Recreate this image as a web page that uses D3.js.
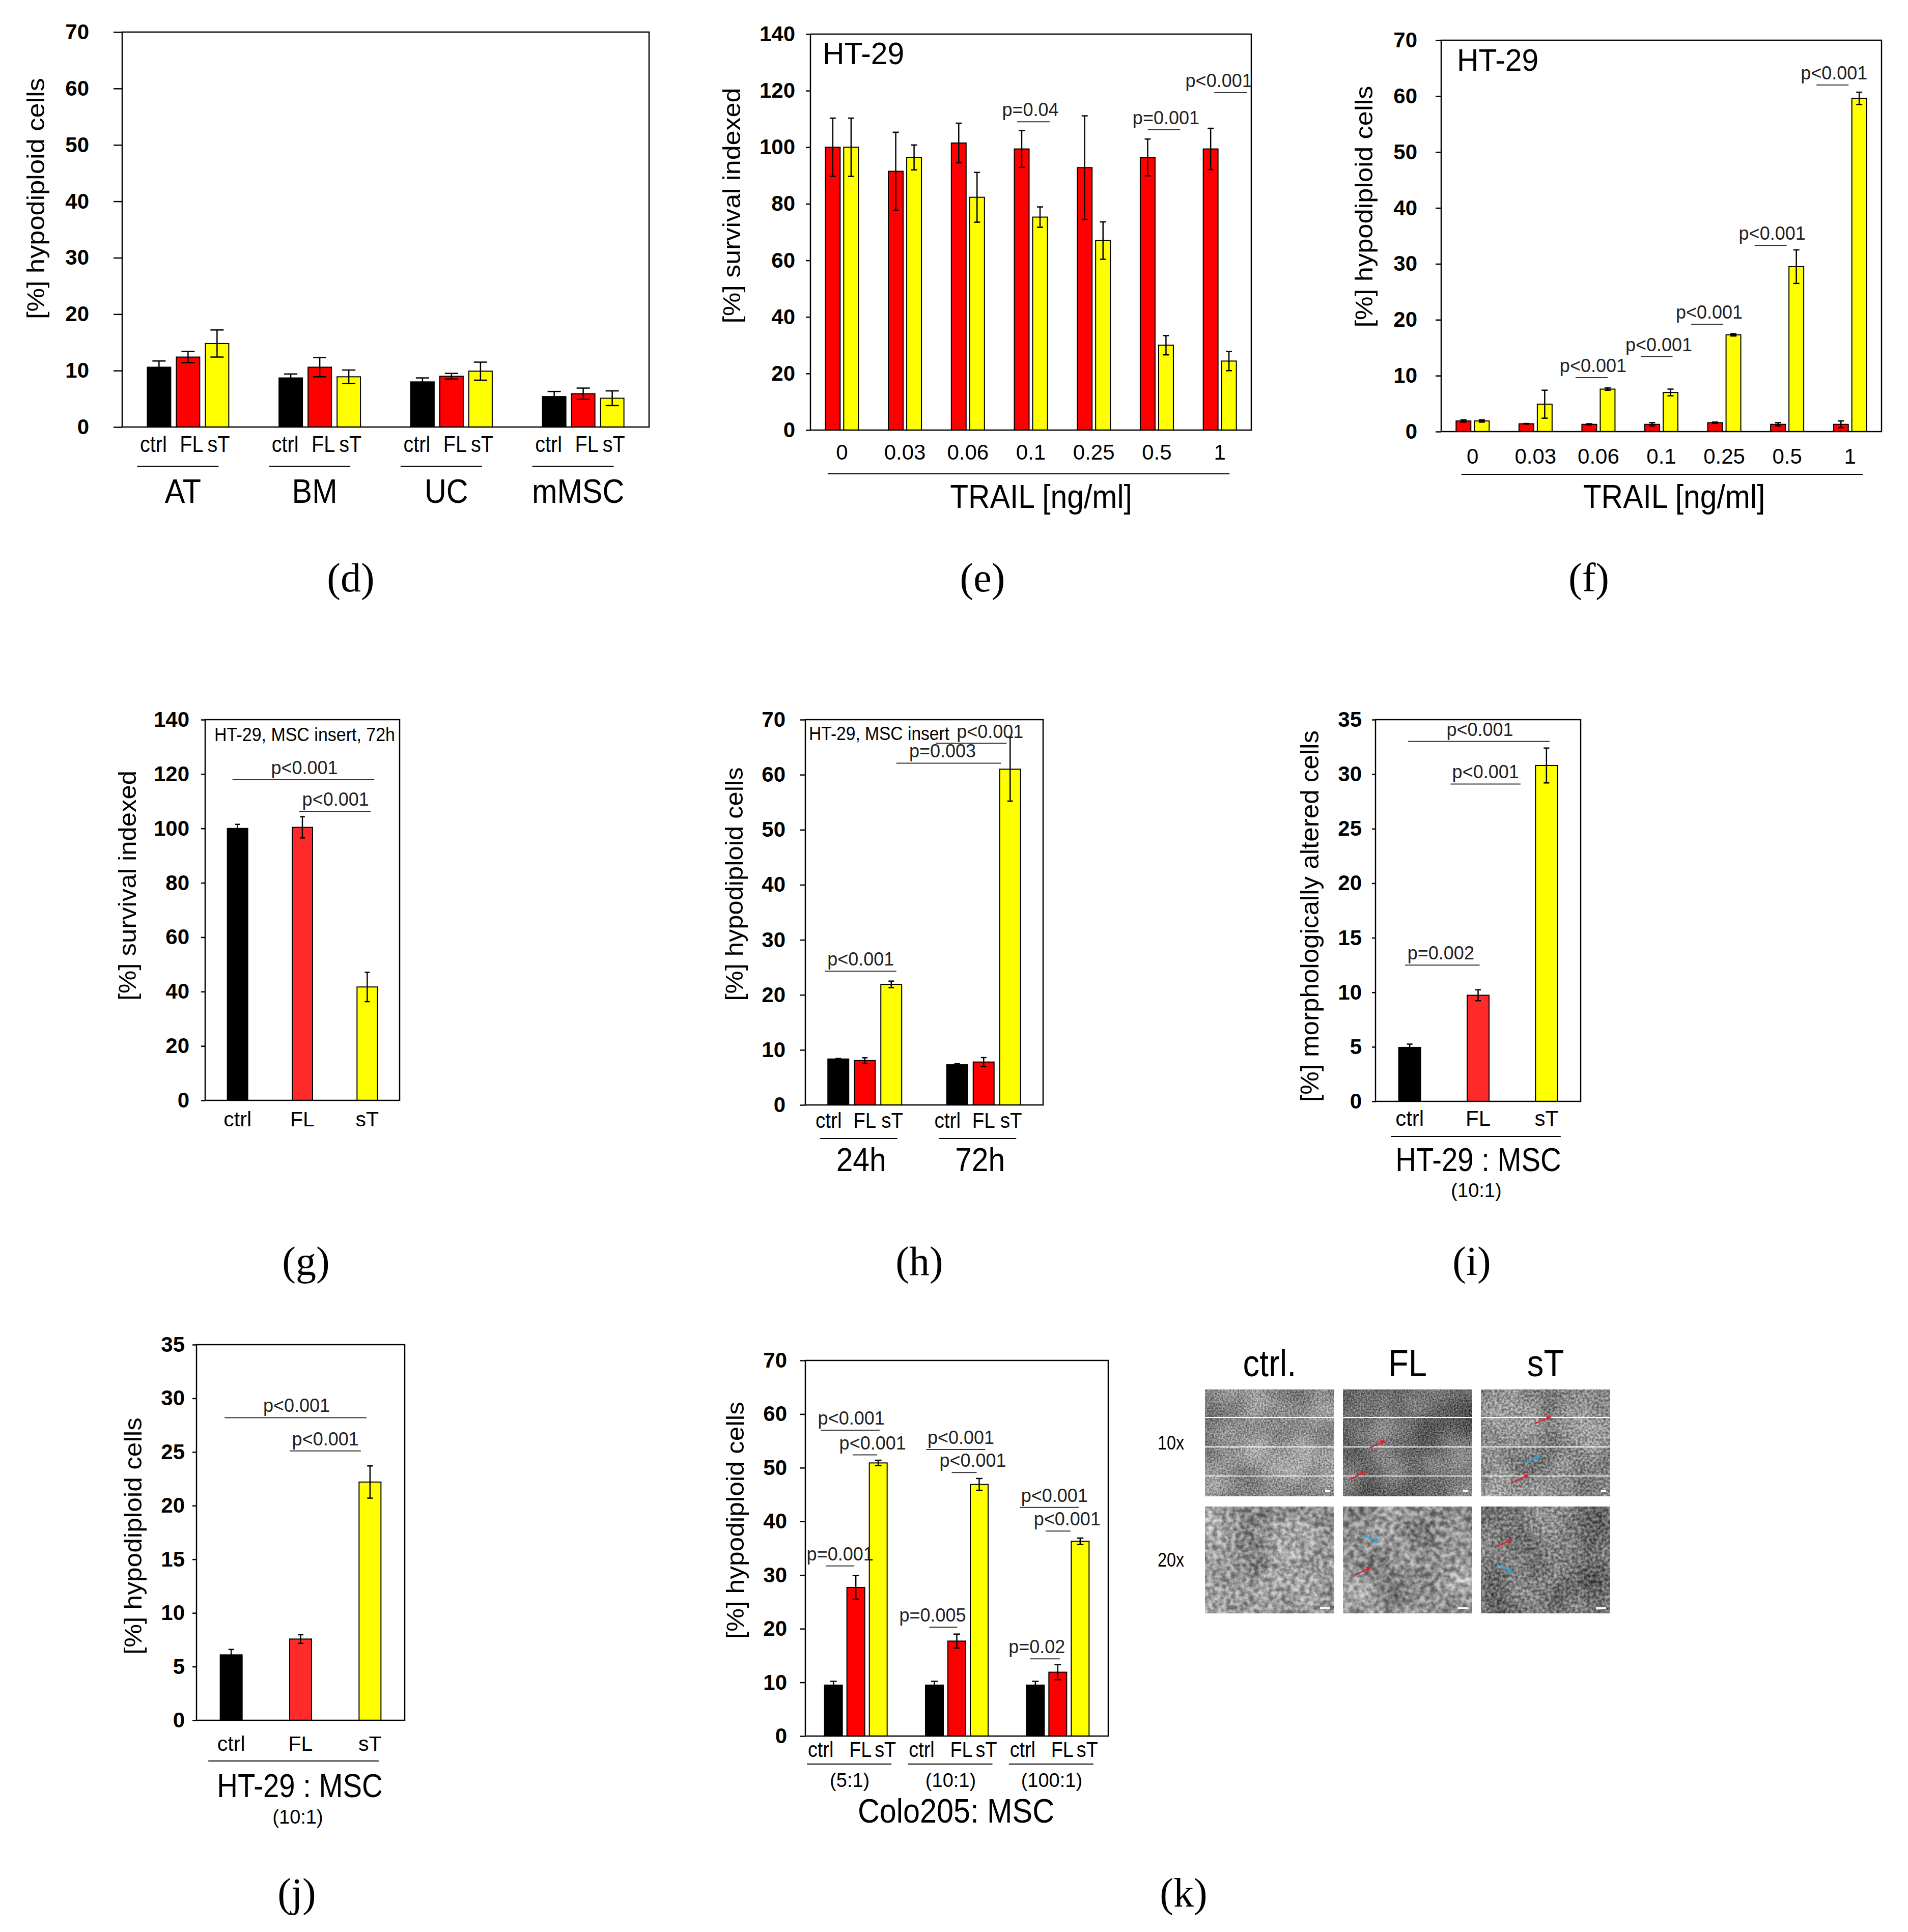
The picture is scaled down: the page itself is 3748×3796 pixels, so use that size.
<!DOCTYPE html>
<html>
<head>
<meta charset="utf-8">
<script src="https://cdn.jsdelivr.net/npm/d3@7"></script>
<style>
  body { margin: 0; background: #fff; }
  svg { display: block; }
</style>
</head>
<body>
<svg id="fig" width="3748" height="3796"></svg>
<script>
// ---------- data ----------
const cond = ["ctrl", "FL", "sT"];

// (d) hypodiploid cells per MSC source
const dSources = ["AT", "BM", "UC", "mMSC"];
const dMean = [[10.6, 12.4, 14.8], [8.7, 10.6, 8.9], [8.0, 9.0, 9.9], [5.4, 5.9, 5.1]];
const dErr  = [[1.1, 1.0, 2.4], [0.7, 1.7, 1.2], [0.7, 0.5, 1.6], [0.9, 1.0, 1.3]];

// (e) survival, (f) hypodiploid cells vs TRAIL dose (red = FL, yellow = sT)
const trailDoses = ["0", "0.03", "0.06", "0.1", "0.25", "0.5", "1"];
const eFL    = [100, 91.5, 101.5, 99.4, 92.8, 96.4, 99.4];
const eFLErr = [10.3, 13.8, 7.0, 6.5, 18.3, 6.5, 7.3];
const eST    = [100, 96.4, 82.3, 75.3, 67.0, 30.0, 24.4];
const eSTErr = [10.3, 4.4, 8.8, 3.6, 6.6, 3.4, 3.4];
const ePvals = [[3, "p=0.04", 109], [5, "p=0.001", 106.2], [6, "p<0.001", 119.3]];

const fFL    = [1.9, 1.4, 1.3, 1.3, 1.6, 1.3, 1.3];
const fFLErr = [0.2, 0.05, 0.1, 0.3, 0.1, 0.3, 0.6];
const fST    = [1.9, 4.9, 7.6, 7.0, 17.3, 29.5, 59.6];
const fSTErr = [0.2, 2.5, 0.2, 0.6, 0.2, 3.0, 1.1];
const fPvals = [[2, "p<0.001", 9.65], [3, "p<0.001", 13.4], [4, "p<0.001", 19.2], [5, "p<0.001", 33.3], [6, "p<0.001", 62.0]];

// (g) survival with MSC insert, 72h
const gMean = [100, 100.4, 41.7];
const gErr  = [1.5, 3.9, 5.4];
const gPvals = [[0, 2, "p<0.001", 117.9], [1, 2, "p<0.001", 106.3]];

// (h) hypodiploid cells with MSC insert
const hTimes = ["24h", "72h"];
const hMean = [[8.35, 8.07, 21.9], [7.3, 7.8, 61.0]];
const hErr  = [[0.1, 0.5, 0.6], [0.2, 0.8, 5.8]];
const hPvals = [[[0, 0], [0, 2], "p<0.001", 24.3], [[1, 0], [1, 2], "p<0.001", 65.7], [[0, 2], [1, 2], "p=0.003", 62.1]];

// (i) morphologically altered cells, HT-29 : MSC (10:1)
const iMean = [4.95, 9.73, 30.8];
const iErr  = [0.3, 0.5, 1.6];
const iPvals = [[0, 2, "p<0.001", 33.0], [1, 2, "p<0.001", 29.1], [0, 1, "p=0.002", 12.5]];

// (j) hypodiploid cells, HT-29 : MSC (10:1)
const jMean = [6.1, 7.57, 22.2];
const jErr  = [0.5, 0.4, 1.5];
const jPvals = [[0, 2, "p<0.001", 28.2], [1, 2, "p<0.001", 25.1]];

// (k) hypodiploid cells, Colo205 : MSC ratios
const kRatios = ["(5:1)", "(10:1)", "(100:1)"];
const kMean = [[9.5, 27.7, 50.9], [9.5, 17.7, 46.9], [9.5, 11.9, 36.3]];
const kErr  = [[0.7, 2.2, 0.5], [0.7, 1.3, 1.1], [0.7, 1.4, 0.6]];
const kCtrlST = [57.0, 53.4, 42.6];
const kFLST   = [52.4, 49.1, 38.2];
const kCtrlFL = [["p=0.001", 31.7], ["p=0.005", 20.3], ["p=0.02", 14.4]];

// micrographs
const microCols = ["ctrl.", "FL", "sT"];
const microRows = ["10x", "20x"];
// arrows as fractions of each image: [row, col, colour, x1, y1, x2, y2]
const microArrows = [
  [0, 1, "r", 0.205, 0.548, 0.323, 0.481], [0, 1, "r", 0.051, 0.843, 0.173, 0.771],
  [0, 2, "r", 0.418, 0.319, 0.539, 0.257], [0, 2, "b", 0.344, 0.686, 0.457, 0.619],
  [0, 2, "r", 0.242, 0.871, 0.367, 0.800],
  [1, 1, "b", 0.146, 0.267, 0.276, 0.329], [1, 1, "r", 0.091, 0.643, 0.213, 0.571],
  [1, 2, "r", 0.125, 0.376, 0.238, 0.310], [1, 2, "b", 0.125, 0.538, 0.238, 0.614]
];

// ---------- styles ----------
const FONT = "'Liberation Sans', Arial, Helvetica, sans-serif";
const SERIF = "'Liberation Serif', 'DejaVu Serif', serif";
const RED = "#ff0000", RED2 = "#ff2b2b", YEL = "#ffff00", BLK = "#000000";
const trio = [BLK, RED, YEL];
const trio2 = [BLK, RED2, YEL];

const svg = d3.select("#fig");
svg.append("rect").attr("width", 3748).attr("height", 3796).attr("fill", "#fff");
const defs = svg.append("defs");

function txt(parent, s, x, y, o = {}) {
  const t = parent.append("text")
    .attr("transform", `translate(${x},${y})` + (o.sx ? ` scale(${o.sx},1)` : ""))
    .attr("text-anchor", o.anchor || "middle")
    .attr("font-family", o.family || FONT)
    .attr("font-size", o.size || 42)
    .attr("font-weight", o.weight || "normal")
    .attr("fill", o.fill || "#000")
    .text(s);
  if (o.len) t.attr("textLength", o.len).attr("lengthAdjust", "spacingAndGlyphs");
  return t;
}

function yLabel(s, x, cy, len, size) {
  svg.append("text")
    .attr("transform", `translate(${x},${cy}) rotate(-90)`)
    .attr("text-anchor", "middle")
    .attr("font-family", FONT)
    .attr("font-size", size || 49)
    .attr("textLength", len)
    .attr("lengthAdjust", "spacingAndGlyphs")
    .text(s);
}

function hline(parent, x1, x2, yy, w, col) {
  parent.append("line").attr("x1", x1).attr("x2", x2).attr("y1", yy).attr("y2", yy)
    .attr("stroke", col || "#000").attr("stroke-width", w || 2);
}

// generic bar panel: bars is an array of groups, each an array of {v, e, c}
function drawPanel(p) {
  const g = svg.append("g");
  const y = d3.scaleLinear().domain([0, p.ymax]).range([p.B, p.T]);
  const x = d3.scalePoint().domain(d3.range(p.bars.length)).range([p.L, p.R]).padding(0.5);
  const k = p.bars[0].length;
  const bx = (gi, bi) => x(gi) + (bi - (k - 1) / 2) * (p.barStep || 0);

  const flat = p.bars.flatMap((grp, gi) => grp.map((b, bi) => ({ ...b, gi, bi })));

  g.selectAll("rect.bar").data(flat).join("rect")
    .attr("class", "bar")
    .attr("x", d => bx(d.gi, d.bi) - p.barW / 2)
    .attr("y", d => y(d.v))
    .attr("width", p.barW)
    .attr("height", d => y(0) - y(d.v))
    .attr("fill", d => d.c)
    .attr("stroke", "#000").attr("stroke-width", 2);

  // error bars
  const eb = g.selectAll("g.err").data(flat).join("g").attr("class", "err")
    .attr("stroke", "#000").attr("stroke-width", 2.5);
  eb.append("line")
    .attr("x1", d => bx(d.gi, d.bi)).attr("x2", d => bx(d.gi, d.bi))
    .attr("y1", d => y(d.v - d.e)).attr("y2", d => y(d.v + d.e));
  [1, -1].forEach(sgn => {
    eb.append("line")
      .attr("x1", d => bx(d.gi, d.bi) - p.cap / 2).attr("x2", d => bx(d.gi, d.bi) + p.cap / 2)
      .attr("y1", d => y(d.v + sgn * d.e)).attr("y2", d => y(d.v + sgn * d.e));
  });

  // frame
  g.append("rect").attr("x", p.L).attr("y", p.T)
    .attr("width", p.R - p.L).attr("height", p.B - p.T)
    .attr("fill", "none").attr("stroke", "#000").attr("stroke-width", 2.5);

  // y axis
  const axis = d3.axisLeft(y)
    .tickValues(d3.range(0, p.ymax + 1e-9, p.ystep))
    .tickSize(p.tickLen).tickPadding(p.labelGap)
    .tickFormat(d3.format("d"));
  const ag = g.append("g").attr("transform", `translate(${p.L},0)`).call(axis);
  ag.select(".domain").remove();
  ag.selectAll(".tick line").attr("stroke", "#000").attr("stroke-width", 2.5);
  ag.selectAll(".tick text")
    .attr("font-family", FONT).attr("font-weight", "bold")
    .attr("font-size", 42).attr("fill", "#000");

  // significance annotations; noteLayout holds [left pad, right pad, text shift] per note
  (p.notes || []).forEach((n, i) => {
    const [pl, pr, dt] = (p.noteLayout && p.noteLayout[i]) || [-12, 10, 0];
    const x1 = bx(n.from[0], n.from[1]) + pl;
    const x2 = bx(n.to[0], n.to[1]) + pr;
    const ly = y(n.at);
    hline(g, x1, x2, ly, 2, "#333");
    txt(g, n.label, (x1 + x2) / 2 + dt, ly - 11, { size: 36, fill: "#222" });
  });

  return { g, x, y, bx };
}

function caption(s, x, yy) {
  txt(svg, s, x, yy, { family: SERIF, size: 80 });
}

// ---------- (d) ----------
const pd = drawPanel({
  L: 240, R: 1275, T: 63, B: 839, ymax: 70, ystep: 10,
  barW: 46, barStep: 57, cap: 26, tickLen: 17, labelGap: 48,
  bars: dSources.map((s, gi) => cond.map((c, bi) => ({ v: dMean[gi][bi], e: dErr[gi][bi], c: trio[bi] })))
});
dSources.forEach((s, gi) => {
  cond.forEach((c, bi) => txt(pd.g, c, pd.bx(gi, bi) + [-11, 7, 3][bi], 888, { size: 44, sx: 0.9 }));
  hline(pd.g, pd.x(gi) - 100, pd.x(gi) + 60, 916, 2);
  txt(pd.g, s, pd.x(gi) - 10, 988, { size: 66, sx: 0.9 });
});
yLabel("[%] hypodiploid cells", 87, 390, 474);
caption("(d)", 689, 1162);

// ---------- (e) ----------
const pe = drawPanel({
  L: 1592, R: 2458, T: 67, B: 845, ymax: 140, ystep: 20,
  barW: 29, barStep: 36, cap: 12, tickLen: 9, labelGap: 21,
  noteLayout: [[-9, 19, -6], [0, 28, 4], [7, 35, -23]],
  bars: trailDoses.map((d, gi) => [{ v: eFL[gi], e: eFLErr[gi], c: RED }, { v: eST[gi], e: eSTErr[gi], c: YEL }]),
  notes: ePvals.map(([gi, label, at]) => ({ from: [gi, 0], to: [gi, 1], label, at }))
});
trailDoses.forEach((d, gi) => txt(pe.g, d, pe.x(gi), 903, { size: 42 }));
hline(pe.g, pe.x(0) - 28, pe.x(6) + 19, 931, 2);
txt(pe.g, "TRAIL [ng/ml]", (pe.x(0) + pe.x(6)) / 2 + 20, 998, { size: 64, sx: 0.92 });
txt(pe.g, "HT-29", 1616, 126, { anchor: "start", size: 62, sx: 0.95 });
yLabel("[%] survival indexed", 1454, 404, 463);
caption("(e)", 1930, 1162);

// ---------- (f) ----------
const pf = drawPanel({
  L: 2831, R: 3696, T: 79, B: 848, ymax: 70, ystep: 10,
  barW: 29, barStep: 36, cap: 12, tickLen: 11, labelGap: 36,
  noteLayout: [[-27, 0, 3], [-22, 4, 4], [-47, -20, 4], [-46, -19, 3], [-48, -21, 3]],
  bars: trailDoses.map((d, gi) => [{ v: fFL[gi], e: fFLErr[gi], c: RED }, { v: fST[gi], e: fSTErr[gi], c: YEL }]),
  notes: fPvals.map(([gi, label, at]) => ({ from: [gi, 0], to: [gi, 1], label, at }))
});
trailDoses.forEach((d, gi) => txt(pf.g, d, pf.x(gi), 911, { size: 42 }));
hline(pf.g, pf.x(0) - 22, pf.x(6) + 25, 932, 2);
txt(pf.g, "TRAIL [ng/ml]", (pf.x(0) + pf.x(6)) / 2 + 25, 998, { size: 64, sx: 0.92 });
txt(pf.g, "HT-29", 2862, 139, { anchor: "start", size: 62, sx: 0.95 });
yLabel("[%] hypodiploid cells", 2696, 406, 475);
caption("(f)", 3121, 1162);

// ---------- (g) ----------
const pg = drawPanel({
  L: 403, R: 785, T: 1414, B: 2162, ymax: 140, ystep: 20,
  barW: 40, cap: 10, tickLen: 8, labelGap: 23,
  noteLayout: [[-10, 14, 2], [-6, 7, 1]],
  bars: cond.map((c, gi) => [{ v: gMean[gi], e: gErr[gi], c: trio2[gi] }]),
  notes: gPvals.map(([a, b, label, at]) => ({ from: [a, 0], to: [b, 0], label, at }))
});
cond.forEach((c, gi) => txt(pg.g, c, pg.x(gi), 2213, { size: 41 }));
txt(pg.g, "HT-29, MSC insert, 72h", 421, 1456, { anchor: "start", size: 36, len: 355 });
yLabel("[%] survival indexed", 267, 1740, 452);
caption("(g)", 601, 2505);

// ---------- (h) ----------
const ph = drawPanel({
  L: 1582, R: 2049, T: 1414, B: 2171, ymax: 70, ystep: 10,
  barW: 41, barStep: 52, cap: 11, tickLen: 10, labelGap: 29,
  noteLayout: [[-26, 10, 0], [-42, -7, 37], [10, -18, -12]],
  bars: hTimes.map((t, gi) => cond.map((c, bi) => ({ v: hMean[gi][bi], e: hErr[gi][bi], c: trio[bi] }))),
  notes: hPvals.map(([from, to, label, at]) => ({ from, to, label, at }))
});
hTimes.forEach((t, gi) => {
  cond.forEach((c, bi) => txt(ph.g, c, ph.bx(gi, bi) + [-19, 0, 2][bi], 2216, { size: 42, sx: 0.92 }));
  hline(ph.g, ph.x(gi) - 88, ph.x(gi) + 64, 2237, 2);
  txt(ph.g, t, ph.x(gi) - 7, 2301, { size: 64, sx: 0.92 });
});
txt(ph.g, "HT-29, MSC insert", 1589, 1454, { anchor: "start", size: 36, len: 276 });
yLabel("[%] hypodiploid cells", 1459, 1737, 459);
caption("(h)", 1806, 2505);

// ---------- (i) ----------
const pi = drawPanel({
  L: 2702, R: 3105, T: 1414, B: 2164, ymax: 35, ystep: 5,
  barW: 43, cap: 11, tickLen: 7, labelGap: 20,
  noteLayout: [[-3, 6, 2], [-54, -51, 0], [-9, 3, -3]],
  bars: cond.map((c, gi) => [{ v: iMean[gi], e: iErr[gi], c: trio2[gi] }]),
  notes: iPvals.map(([a, b, label, at]) => ({ from: [a, 0], to: [b, 0], label, at }))
});
cond.forEach((c, gi) => txt(pi.g, c, pi.x(gi), 2212, { size: 42 }));
hline(pi.g, pi.x(0) - 37, pi.x(2) + 28, 2233, 2);
txt(pi.g, "HT-29 : MSC", 2904, 2301, { size: 64, sx: 0.88 });
txt(pi.g, "(10:1)", 2900, 2352, { size: 38 });
yLabel("[%] morphologically altered cells", 2590, 1800, 730, 50);
caption("(i)", 2891, 2505);

// ---------- (j) ----------
const pj = drawPanel({
  L: 386, R: 795, T: 2642, B: 3380, ymax: 35, ystep: 5,
  barW: 43, cap: 11, tickLen: 8, labelGap: 15,
  noteLayout: [[-13, -7, 2], [-21, -18, 0]],
  bars: cond.map((c, gi) => [{ v: jMean[gi], e: jErr[gi], c: trio2[gi] }]),
  notes: jPvals.map(([a, b, label, at]) => ({ from: [a, 0], to: [b, 0], label, at }))
});
cond.forEach((c, gi) => txt(pj.g, c, pj.x(gi), 3440, { size: 41 }));
hline(pj.g, pj.x(0) - 45, pj.x(2) + 17, 3460, 2);
txt(pj.g, "HT-29 : MSC", 589, 3531, { size: 64, sx: 0.88 });
txt(pj.g, "(10:1)", 585, 3583, { size: 38 });
yLabel("[%] hypodiploid cells", 278, 3018, 466);
caption("(j)", 583, 3746);

// ---------- (k) ----------
const kNotes = [];
kRatios.forEach((r, gi) => {
  kNotes.push({ from: [gi, 0], to: [gi, 2], label: "p<0.001", at: kCtrlST[gi] });
  kNotes.push({ from: [gi, 1], to: [gi, 2], label: "p<0.001", at: kFLST[gi] });
  kNotes.push({ from: [gi, 0], to: [gi, 1], label: kCtrlFL[gi][0], at: kCtrlFL[gi][1] });
});
const pk = drawPanel({
  L: 1582, R: 2177, T: 2673, B: 3411, ymax: 70, ystep: 10,
  barW: 35, barStep: 44, cap: 13, tickLen: 11, labelGap: 25,
  noteLayout: [[-25, 3, 2], [-6, -2, 15], [-15, -3, 0],
               [-16, 12, 10], [-10, -5, 17], [-10, 1, -21],
               [-30, -3, 10], [-24, -19, 18], [-10, 4, -16]],
  bars: kRatios.map((r, gi) => cond.map((c, bi) => ({ v: kMean[gi][bi], e: kErr[gi][bi], c: trio[bi] }))),
  notes: kNotes
});
kRatios.forEach((r, gi) => {
  cond.forEach((c, bi) => txt(pk.g, c, pk.bx(gi, bi) + [-25, 9, 14][bi], 3452, { size: 42, sx: 0.9 }));
  hline(pk.g, pk.x(gi) - 96, pk.x(gi) + 70, 3466, 2);
  txt(pk.g, r, pk.x(gi) - 12, 3511, { size: 38 });
});
txt(pk.g, "Colo205: MSC", 1878, 3581, { size: 66, sx: 0.9 });
yLabel("[%] hypodiploid cells", 1461, 2987, 466);
caption("(k)", 2325, 3746);

// ---------- micrographs ----------
const mx = d3.scaleBand().domain(microCols).range([2367, 3163]).paddingInner(0.063);
const my = d3.scaleBand().domain(microRows).range([2730, 3170]).paddingInner(0.087);
// mean grey and fine-grain frequency per image (rows x cols)
const microTone = [[0.56, 0.43, 0.55], [0.60, 0.56, 0.48]];
const microFreq = [[0.32, 0.35, 0.22], [0.11, 0.1, 0.17]];

["r", "b"].forEach(k => {
  defs.append("marker").attr("id", "arr-" + k)
    .attr("viewBox", "0 0 10 10").attr("refX", 8).attr("refY", 5)
    .attr("markerWidth", 4).attr("markerHeight", 4).attr("orient", "auto")
    .append("path").attr("d", "M0,0 L10,5 L0,10 z")
    .attr("fill", k === "r" ? "#e3202c" : "#1aa7e6");
});

function noiseFilter(id, freq, seed, a, b, alpha) {
  const f = defs.append("filter").attr("id", id)
    .attr("x", 0).attr("y", 0).attr("width", 1).attr("height", 1)
    .attr("color-interpolation-filters", "sRGB");
  f.append("feTurbulence").attr("type", "fractalNoise")
    .attr("baseFrequency", freq).attr("numOctaves", 2)
    .attr("seed", seed).attr("result", "n");
  f.append("feColorMatrix").attr("in", "n").attr("type", "matrix")
    .attr("values", `${a} 0 0 0 ${b} ${a} 0 0 0 ${b} ${a} 0 0 0 ${b} 0 0 0 0 ${alpha}`);
}

const mg = svg.append("g");
microRows.forEach((row, ri) => {
  microCols.forEach((col, ci) => {
    const m = microTone[ri][ci];
    const baseMean = (m - 0.35 * 0.5) / 0.65;
    noiseFilter(`micb${ri}${ci}`, 0.012, 11 + ri * 3 + ci, 0.6, baseMean - 0.3, 1);
    noiseFilter(`micf${ri}${ci}`, microFreq[ri][ci], 3 + ri * 3 + ci, 2.2, 0.5 - 1.1, 0.35);

    const x0 = mx(col), y0 = my(row), w = mx.bandwidth(), h = my.bandwidth();
    mg.append("rect").attr("x", x0).attr("y", y0).attr("width", w).attr("height", h)
      .attr("fill", "#888").attr("filter", `url(#micb${ri}${ci})`);
    mg.append("rect").attr("x", x0).attr("y", y0).attr("width", w).attr("height", h)
      .attr("fill", "#888").attr("filter", `url(#micf${ri}${ci})`);

    if (ri === 0) {
      [0.262, 0.538, 0.81].forEach(fr => hline(mg, x0, x0 + w, y0 + fr * h, 1.8, "#fff"));
    }
    // scale bar
    const sb = ri === 0 ? 10 : 20;
    mg.append("rect").attr("x", x0 + w - 8 - sb).attr("y", y0 + h - 12)
      .attr("width", sb).attr("height", 3).attr("fill", "#fff");
  });
});

const ax = d3.scaleLinear().range([0, mx.bandwidth()]);
const ay = d3.scaleLinear().range([0, my.bandwidth()]);
microArrows.forEach(([ri, ci, k, x1, y1, x2, y2]) => {
  const x0 = mx(microCols[ci]), y0 = my(microRows[ri]);
  mg.append("line")
    .attr("x1", x0 + ax(x1)).attr("y1", y0 + ay(y1))
    .attr("x2", x0 + ax(x2)).attr("y2", y0 + ay(y2))
    .attr("stroke", k === "r" ? "#e3202c" : "#1aa7e6").attr("stroke-width", 2.5)
    .attr("marker-end", `url(#arr-${k})`);
});

microCols.forEach(c => txt(mg, c, mx(c) + mx.bandwidth() / 2, 2704, { size: 74, sx: 0.88 }));
microRows.forEach(r => txt(mg, r, 2300, my(r) + my.bandwidth() / 2 + 13, { size: 38, sx: 0.85 }));
</script>
</body>
</html>
